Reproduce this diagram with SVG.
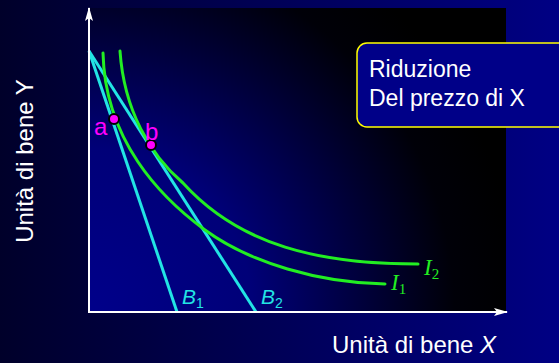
<svg xmlns="http://www.w3.org/2000/svg" width="559" height="363" viewBox="0 0 559 363">
  <defs>
    <linearGradient id="bg" x1="0" y1="0" x2="1" y2="0">
      <stop offset="0" stop-color="#00002a"/>
      <stop offset="1" stop-color="#000084"/>
    </linearGradient>
    <radialGradient id="plotbg" gradientUnits="userSpaceOnUse" cx="89" cy="312" r="430">
      <stop offset="0" stop-color="#00008a"/>
      <stop offset="0.38" stop-color="#000078"/>
      <stop offset="0.85" stop-color="#000008"/>
      <stop offset="1" stop-color="#000000"/>
    </radialGradient>
    <marker id="arrow" viewBox="0 0 14 8" refX="13" refY="4" markerWidth="14" markerHeight="8" markerUnits="userSpaceOnUse" orient="auto">
      <path d="M0,0 L14,4 L0,8 L3,4 Z" fill="#ffffff"/>
    </marker>
    <style>
      .lbl { font-family: "Liberation Sans", Arial, sans-serif; fill: #ffffff; }
      .budget { fill: none; stroke: #22e4e4; stroke-width: 3; }
      .indiff { fill: none; stroke: #22ee22; stroke-width: 3; stroke-linecap: round; }
      .axis { stroke: #ffffff; stroke-width: 2; fill: none; }
      .pt { fill: #ff00ff; stroke: #000000; stroke-width: 2; }
      .ptlbl { font-family: "Liberation Sans", Arial, sans-serif; font-size: 24px; fill: #ff00ff; }
      .blbl { font-family: "Liberation Sans", Arial, sans-serif; font-style: italic; fill: #22e4e4; }
      .ilbl { font-family: "Liberation Serif", "Times New Roman", serif; font-style: italic; fill: #22ee22; }
    </style>
  </defs>

  <rect x="0" y="0" width="559" height="363" fill="url(#bg)"/>
  <rect x="89" y="8" width="417" height="304" fill="url(#plotbg)"/>

  <g id="connectors">
    <path id="B1" class="budget" d="M89,51 L177,312"/>
    <path id="B2" class="budget" d="M89,51 L256,312"/>
    <path id="I1" class="indiff" d="M103,53 C105,140 160,197 205,230 C250,263 320,283 385,284"/>
    <path id="I2" class="indiff" d="M120,51 C124,110 150,155 183,183 C240,246 320,264 418,264"/>
  </g>

  <g id="axes">
    <line class="axis" x1="89" y1="313" x2="89" y2="8" marker-end="url(#arrow)"/>
    <line class="axis" x1="88" y1="312" x2="507" y2="312" marker-end="url(#arrow)"/>
  </g>

  <g id="label-B1">
    <text class="blbl" x="182" y="304" font-size="21">B<tspan font-style="normal" font-size="14" dy="4">1</tspan></text>
  </g>
  <g id="label-B2">
    <text class="blbl" x="261" y="304" font-size="21">B<tspan font-style="normal" font-size="14" dy="4">2</tspan></text>
  </g>
  <g id="label-I1">
    <text class="ilbl" x="391" y="290" font-size="23">I<tspan font-style="normal" font-size="15" dy="4">1</tspan></text>
  </g>
  <g id="label-I2">
    <text class="ilbl" x="424" y="275" font-size="23">I<tspan font-style="normal" font-size="15" dy="4">2</tspan></text>
  </g>

  <g id="point-a">
    <circle class="pt" cx="114" cy="119" r="5"/>
    <text class="ptlbl" x="94" y="135">a</text>
  </g>
  <g id="point-b">
    <circle class="pt" cx="151" cy="145" r="5"/>
    <text class="ptlbl" x="145" y="140">b</text>
  </g>

  <g id="callout">
    <rect x="357" y="43" width="230" height="84" rx="10" ry="10" fill="#000088" stroke="#ffff00" stroke-width="1.5"/>
    <text class="lbl" x="369" y="77" font-size="23">Riduzione</text>
    <text class="lbl" x="369" y="106" font-size="23">Del prezzo di X</text>
  </g>

  <g id="axis-label-y">
    <text class="lbl" font-size="24" text-anchor="middle" transform="translate(33,161) rotate(-90)">Unità di bene Y</text>
  </g>
  <g id="axis-label-x">
    <text class="lbl" x="332" y="353" font-size="24">Unità di bene <tspan font-style="italic">X</tspan></text>
  </g>
</svg>
